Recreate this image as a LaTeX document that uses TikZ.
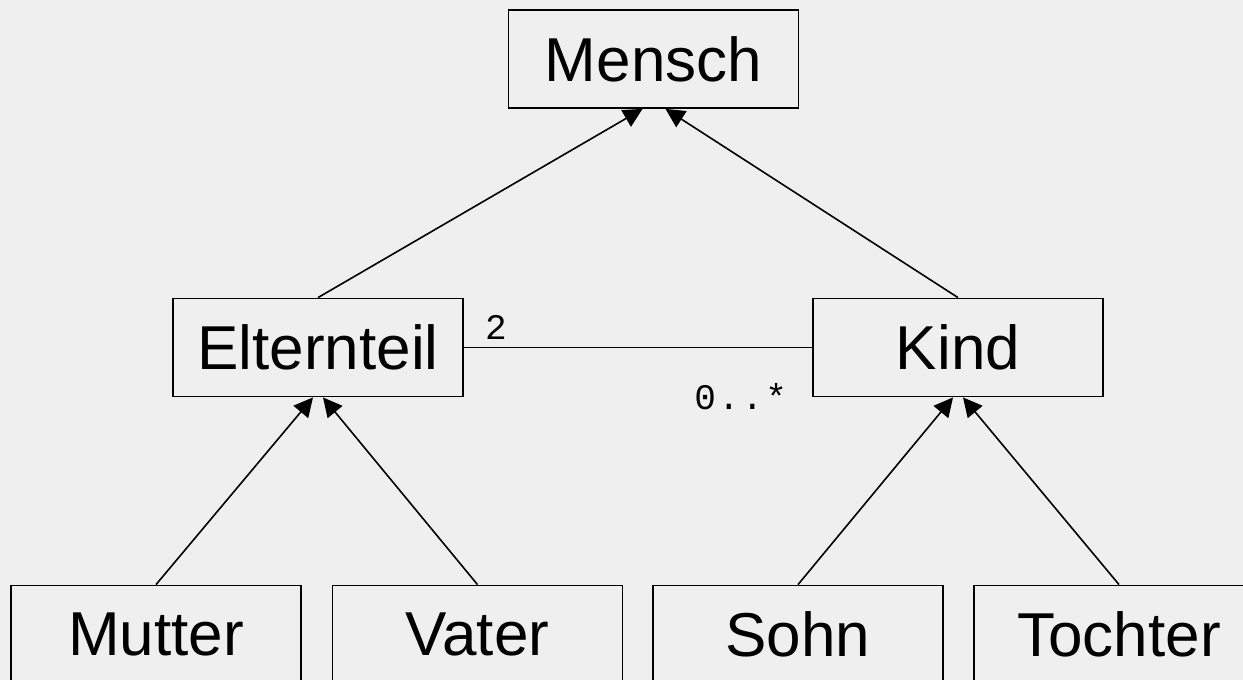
\documentclass[tikz,border=0pt]{standalone}
\usepackage{fontspec}
\setmainfont{Liberation Sans}
\newfontfamily\multfont{Liberation Mono}
\usetikzlibrary{arrows.meta}
\definecolor{bg}{HTML}{EFEFEF}
\tikzset{
  cls/.style={draw=black, line width=1.8pt, fill=bg, inner sep=0pt,
    minimum width=290pt, minimum height=98pt,
    font=\fontsize{62}{70}\selectfont},
  gen/.style={line width=1.6pt, -{Triangle[length=19pt,width=19pt]}},
  assoc/.style={line width=1.6pt},
  mult/.style={inner sep=0pt, font=\multfont\fontsize{36}{40}\selectfont}
}
\begin{document}
\begin{tikzpicture}[x=1pt,y=-1pt]
  \fill[bg] (0,0) rectangle (1243,680);
  \useasboundingbox (0,0) rectangle (1243,680);
  \clip (0,0) rectangle (1243,680);

  % classes
  \node[cls] (mensch) at (653.5,59) {Mensch};
  \node[cls] (eltern) at (318,347.5) {Elternteil};
  \node[cls] (kind)   at (958,347.5) {Kind};
  \node[cls] (mutter) at (156,634.5) {Mutter};
  \node[cls] (vater)  at (477.5,634.5) {Vater};
  \node[cls] (sohn)   at (798,634.5) {Sohn};
  \node[cls] (tochter) at (1119,634.5) {Tochter};

  % generalisations
  \draw[gen] (eltern.north) -- ([xshift=-11pt]mensch.south);
  \draw[gen] (kind.north)   -- ([xshift=12pt]mensch.south);
  \draw[gen] (mutter.north) -- ([xshift=-5pt]eltern.south);
  \draw[gen] (vater.north)  -- ([xshift=5pt]eltern.south);
  \draw[gen] (sohn.north)   -- ([xshift=-5pt]kind.south);
  \draw[gen] (tochter.north) -- ([xshift=5pt]kind.south);

  % association with multiplicities
  \draw[assoc] (eltern.east) -- (kind.west);
  \node[mult, anchor=base west] (m2) at ([xshift=21pt,yshift=8pt]eltern.east) {2};
  \node[mult, anchor=base east] (m0) at ([xshift=-25pt,yshift=-62pt]kind.west)
    {0\hspace{2pt}.\hspace{2pt}.\hspace{2pt}*};
\end{tikzpicture}
\end{document}
